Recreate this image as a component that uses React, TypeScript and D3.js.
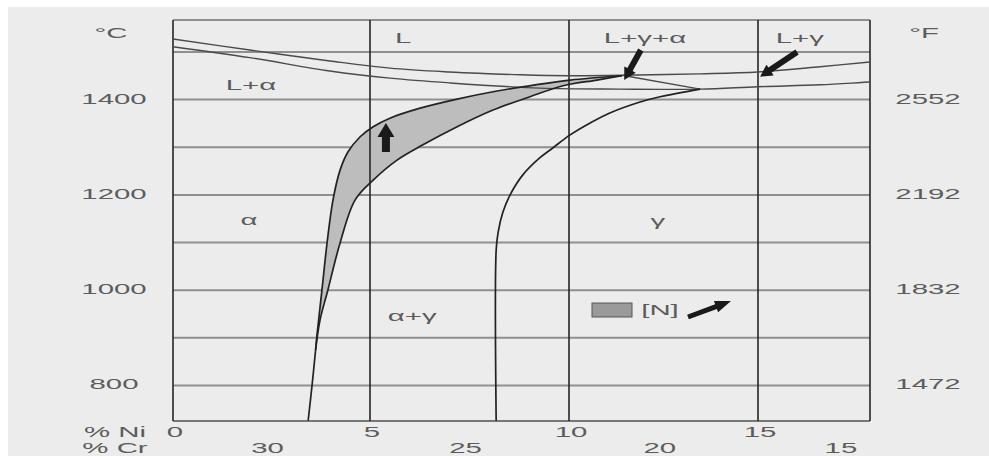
import React from 'react';
import * as d3 from 'd3';

const W = 989;
const H = 456;

// Axis ticks
const gridTemps = [800, 900, 1000, 1100, 1200, 1300, 1400, 1500];
const celsiusTicks = [800, 1000, 1200, 1400];
const fahrenheitLabels = ['1472', '1832', '2192', '2552'];
const niTicks = [0, 5, 10, 15];
const crTicks = [30, 25, 20, 15];
const NI_PLUS_CR = 32.4; // Cr = 32.4 - Ni along the section

// Liquidus L / L+α
const liqAlphaNi = [0, 1.95, 3.98, 5.5, 7.0, 8.8, 10.0, 11.4];
const liqAlphaT = [1527, 1504, 1481, 1466, 1458, 1452, 1450, 1451];
// Liquidus L / L+γ
const liqGammaNi = [11.4, 13.47, 15.0, 16.8, 18.24];
const liqGammaT = [1451, 1454, 1458, 1469, 1479];
// Solidus line (α then γ)
const solidusNi = [0, 1.95, 3.98, 5.5, 7.0, 9.27, 11.35, 13.47, 15.0, 16.8, 18.24];
const solidusT = [1511, 1488, 1460, 1445, 1435, 1424, 1422, 1422, 1427, 1431, 1437];
// Three-phase edge
const edgeNi = [11.4, 13.47];
const edgeT = [1451, 1422];
// δ-ferrite band, outer boundary
const outerNi = [3.43, 3.53, 3.62, 3.65, 3.78, 3.91, 4.06, 4.24, 4.44, 4.75, 5.08, 5.5, 6.26, 7.19, 8.19, 9.15, 10.03, 11.4];
const outerT = [726, 801, 875, 902, 1000, 1099, 1189, 1252, 1290, 1322, 1343, 1361, 1382, 1401, 1418, 1431, 1441, 1450];
// δ-ferrite band, inner boundary
const innerNi = [3.62, 3.73, 3.93, 4.24, 4.62, 5.08, 5.68, 6.33, 7.19, 8.09, 9.02, 9.85, 10.74, 11.4];
const innerT = [875, 937, 1000, 1099, 1189, 1231, 1273, 1305, 1343, 1378, 1406, 1429, 1441, 1450];
// γ / α+γ boundary
const gammaNi = [8.17, 8.17, 8.22, 8.34, 8.52, 8.84, 9.27, 9.6, 10.03, 10.56, 11.08, 11.88, 12.41, 13.47];
const gammaT = [726, 1084, 1122, 1164, 1200, 1242, 1278, 1299, 1326, 1351, 1372, 1395, 1406, 1422];

// Phase labels
const phaseText = ['L', 'L+γ+α', 'L+γ', 'L+α', 'α', 'α+γ', 'γ'];
const phaseNi = [5.63, 12.01, 16.21, 1.98, 1.93, 6.06, 12.35];
const phaseT = [1519, 1519, 1519, 1420, 1137, 935, 1135];
const phaseAnchor = ['start', 'middle', 'middle', 'middle', 'middle', 'middle', 'middle'];

// Arrow annotations (tail -> tip)
const arrowTailNi = [5.4, 11.9, 16.13];
const arrowTailT = [1290, 1504, 1500];
const arrowTipNi = [5.4, 11.46, 15.06];
const arrowTipT = [1351, 1441, 1448];

const zip = (a: number[], b: number[]): [number, number][] => a.map((v, i) => [v, b[i]]);

const FONT = 'Liberation Sans, Arial, sans-serif';
const TEXT_FILL = '#5c5c5c';

function Label({ x, y, text, anchor = 'middle', sx = 2.1, size = 14 }: any) {
  return (
    <text
      transform={`translate(${x},${y}) scale(${sx},1)`}
      textAnchor={anchor}
      fontSize={size}
      fontFamily={FONT}
      fill={TEXT_FILL}
    >
      {text}
    </text>
  );
}

function arrowPath(x1: number, y1: number, x2: number, y2: number, w: number, hw: number, hl: number) {
  const dx = x2 - x1;
  const dy = y2 - y1;
  const len = Math.hypot(dx, dy);
  const ux = dx / len;
  const uy = dy / len;
  const nx = -uy;
  const ny = ux;
  const bx = x2 - ux * hl;
  const by = y2 - uy * hl;
  const p = [
    [x1 + (nx * w) / 2, y1 + (ny * w) / 2],
    [bx + (nx * w) / 2, by + (ny * w) / 2],
    [bx + (nx * hw) / 2, by + (ny * hw) / 2],
    [x2, y2],
    [bx - (nx * hw) / 2, by - (ny * hw) / 2],
    [bx - (nx * w) / 2, by - (ny * w) / 2],
    [x1 - (nx * w) / 2, y1 - (ny * w) / 2],
  ];
  return 'M' + p.map((q) => q.join(',')).join('L') + 'Z';
}

export default function App() {
  const x = d3.scaleLinear().domain([0, 5, 10, 15, 18.24]).range([173, 370, 569, 758, 870]);
  const y = d3.scaleLinear().domain([725.5, 1567]).range([421, 20]);
  const [xMin, xMax] = [x(0), x(18.24)];
  const [yTop, yBot] = [y(1567), y(725.5)];

  const line = d3
    .line<[number, number]>()
    .x((d) => x(d[0]))
    .y((d) => y(d[1]))
    .curve(d3.curveCatmullRom.alpha(0.5));

  const outer = zip(outerNi, outerT);
  const inner = zip(innerNi, innerT);
  const outerFromMerge = outer.slice(2);
  const bandPath =
    (line(outerFromMerge) as string) +
    (line(inner.slice().reverse()) as string).replace(/^M/, 'L') +
    'Z';

  return (
    <svg width={W} height={H} style={{ position: 'absolute', left: 0, top: 0 }}>
      <rect x={0} y={0} width={W} height={H} fill="#ffffff" />
      <rect x={8} y={7} width={W - 8} height={H - 7} fill="#ececec" />

      {/* horizontal grid */}
      {gridTemps.map((t) => (
        <line key={t} x1={xMin} x2={xMax} y1={y(t)} y2={y(t)} stroke="#8f8f8f" strokeWidth={2} />
      ))}
      <line x1={xMin} x2={xMax} y1={yTop} y2={yTop} stroke="#8f8f8f" strokeWidth={2} />
      <line x1={xMin} x2={xMax} y1={yBot} y2={yBot} stroke="#777" strokeWidth={2} />

      {/* shaded δ-ferrite band */}
      <path d={bandPath} fill="#bdbdbd" stroke="none" />

      {/* vertical lines */}
      {niTicks.map((n) => (
        <line key={n} x1={x(n)} x2={x(n)} y1={yTop} y2={yBot} stroke="#262626" strokeWidth={1.6} />
      ))}
      <line x1={xMax} x2={xMax} y1={yTop} y2={yBot} stroke="#262626" strokeWidth={1.6} />

      {/* curves */}
      <g fill="none" strokeLinejoin="round">
        <path d={line(zip(liqAlphaNi, liqAlphaT)) as string} stroke="#4a4a4a" strokeWidth={1.4} />
        <path d={line(zip(liqGammaNi, liqGammaT)) as string} stroke="#4a4a4a" strokeWidth={1.4} />
        <path d={line(zip(solidusNi, solidusT)) as string} stroke="#4a4a4a" strokeWidth={1.4} />
        <path d={line(zip(edgeNi, edgeT)) as string} stroke="#4a4a4a" strokeWidth={1.4} />
        <path d={line(outer) as string} stroke="#222" strokeWidth={1.7} />
        <path d={line(inner) as string} stroke="#222" strokeWidth={1.7} />
        <path d={line(zip(gammaNi, gammaT)) as string} stroke="#222" strokeWidth={1.7} />
      </g>

      {/* arrows */}
      {arrowTailNi.map((n, i) => (
        <path
          key={i}
          d={arrowPath(x(n), y(arrowTailT[i]), x(arrowTipNi[i]), y(arrowTipT[i]), i === 0 ? 8 : 6, i === 0 ? 17 : 13, i === 0 ? 14 : 12)}
          fill="#1a1a1a"
        />
      ))}

      {/* phase labels */}
      {phaseText.map((t, i) => (
        <Label key={t + i} x={x(phaseNi[i])} y={y(phaseT[i])} text={t} anchor={phaseAnchor[i]} />
      ))}

      {/* left °C axis labels */}
      <Label x={111} y={38} text="°C" />
      {celsiusTicks.map((t) => (
        <Label key={t} x={114} y={y(t) + 4} text={String(t)} />
      ))}
      {/* right °F axis labels */}
      <Label x={924} y={38} text="°F" />
      {celsiusTicks.map((t, i) => (
        <Label key={t} x={928} y={y(t) + 4} text={fahrenheitLabels[i]} />
      ))}

      {/* bottom axes */}
      <Label x={115} y={437} text="% Ni" />
      <Label x={115} y={453} text="% Cr" />
      {niTicks.map((n) => (
        <Label key={n} x={x(n) + 2} y={437} text={String(n)} />
      ))}
      {crTicks.map((c) => (
        <Label key={c} x={x(NI_PLUS_CR - c)} y={453} text={String(c)} />
      ))}

      {/* legend */}
      <rect x={592} y={303} width={40} height={14} fill="#9a9a9a" stroke="#555" strokeWidth={1} />
      <Label x={660} y={315} text="[N]" />
      <path d={arrowPath(688, 317, 731, 301, 5, 12, 16)} fill="#1a1a1a" />
    </svg>
  );
}
